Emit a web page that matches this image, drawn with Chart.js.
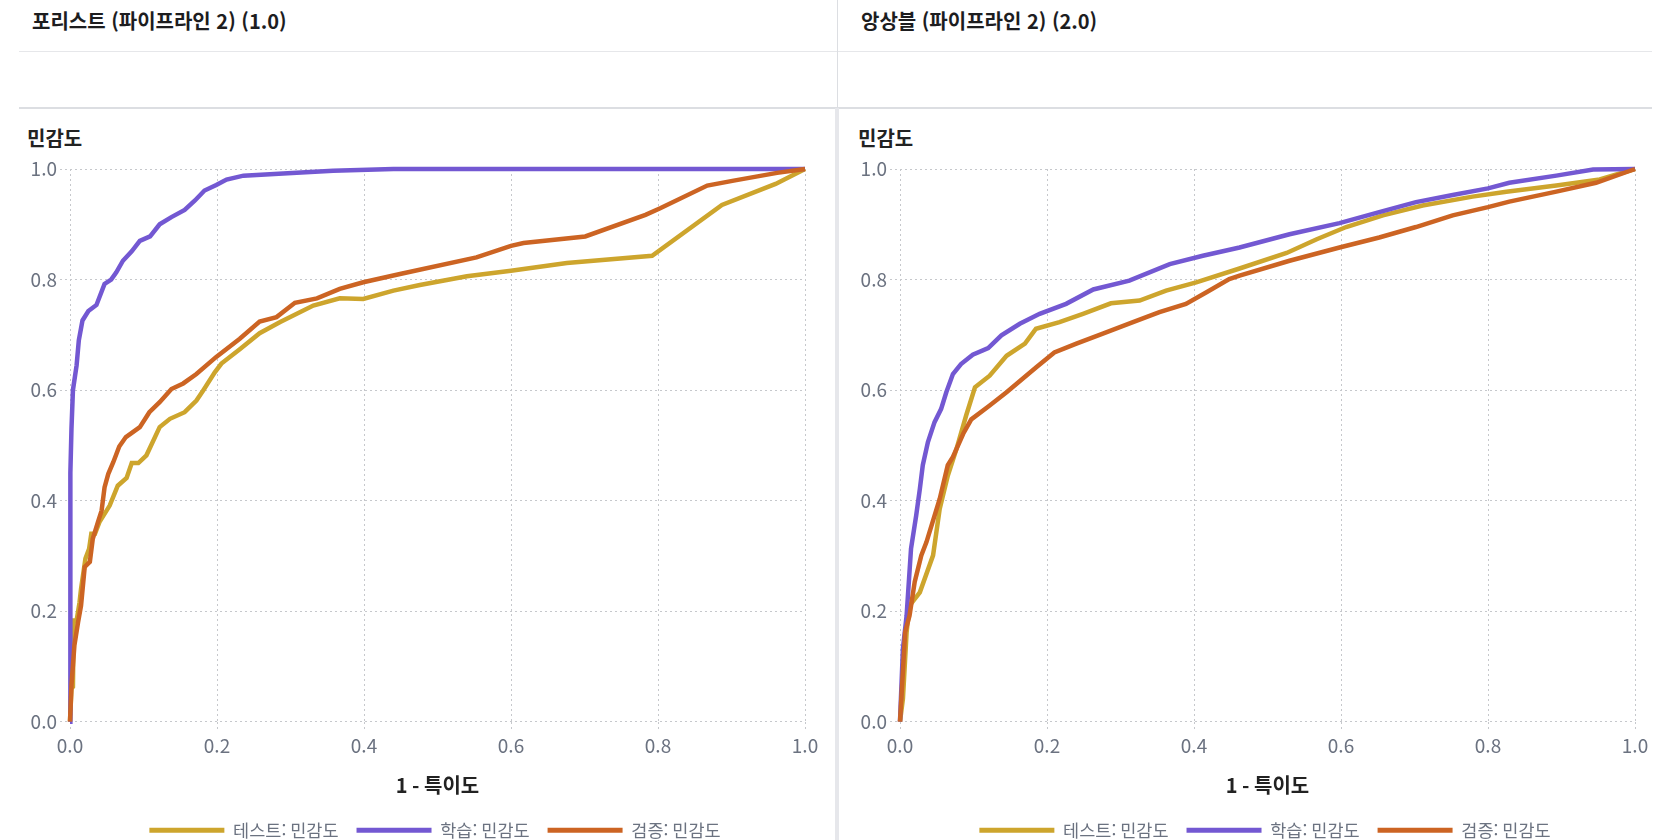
<!DOCTYPE html>
<html lang="ko">
<head>
<meta charset="utf-8">
<title>ROC 곡선</title>
<script src="https://cdn.jsdelivr.net/npm/chart.js"></script>
<style>
  html, body { margin: 0; width: 1671px; height: 840px; overflow: hidden; background: #fff; }
  body { position: relative; font-family: "Noto Sans CJK KR", "Noto Sans", sans-serif; }
  .panel-title { position: absolute; top: 11px; font-size: 20px; line-height: 20px; font-weight: 700; color: #1d1d1f; white-space: nowrap; }
  .axis-name { position: absolute; top: 128px; font-size: 20px; line-height: 20px; font-weight: 700; color: #222; }
  .rule { position: absolute; }
  .chart-box { position: absolute; top: 150px; width: 811px; height: 699px; }
</style>
</head>
<body>
  <div class="panel-title" style="left:32px">포리스트 (파이프라인 2) (1.0)</div>
  <div class="panel-title" style="left:861px">앙상블 (파이프라인 2) (2.0)</div>

  <div class="rule" style="left:19px; top:51px; width:1633px; height:1px; background:#e6e7ea"></div>
  <div class="rule" style="left:19px; top:107px; width:1633px; height:2px; background:#dcdee2"></div>
  <div class="rule" style="left:837px; top:0; width:1px; height:108px; background:#dcdee2"></div>
  <div class="rule" style="left:835px; top:108px; width:4px; height:732px; background:#e6e7eb"></div>

  <div class="axis-name" style="left:27px">민감도</div>
  <div class="axis-name" style="left:858px">민감도</div>

  <div class="chart-box" style="left:19px"><canvas id="forestChart"></canvas></div>
  <div class="chart-box" style="left:849px"><canvas id="ensembleChart"></canvas></div>

<script>
// 1 - 특이도 (x) / 민감도 (y)
const ticks = [0, 0.2, 0.4, 0.6, 0.8, 1.0];
const seriesNames = ['테스트: 민감도', '학습: 민감도', '검증: 민감도'];
const seriesColors = ['#CDA52D', '#7358D2', '#CC6423'];

// 포리스트 (파이프라인 2)
const forestTestFpr = [0, 0.002, 0.004, 0.005, 0.009, 0.013, 0.015, 0.021, 0.026, 0.029, 0.034, 0.04, 0.054, 0.065, 0.077, 0.084, 0.093, 0.104, 0.122, 0.136, 0.156, 0.172, 0.181, 0.197, 0.206, 0.231, 0.258, 0.286, 0.331, 0.367, 0.399, 0.44, 0.476, 0.54, 0.60, 0.676, 0.792, 0.887, 0.96, 1];
const forestTestTpr = [0, 0.06, 0.063, 0.183, 0.183, 0.216, 0.24, 0.295, 0.313, 0.34, 0.34, 0.361, 0.391, 0.427, 0.441, 0.468, 0.468, 0.482, 0.533, 0.548, 0.56, 0.581, 0.599, 0.632, 0.648, 0.674, 0.703, 0.723, 0.753, 0.766, 0.765, 0.78, 0.79, 0.806, 0.816, 0.83, 0.843, 0.935, 0.973, 1];

const forestTrainFpr = [0, 0, 0.001, 0.002, 0.004, 0.009, 0.012, 0.017, 0.025, 0.036, 0.047, 0.056, 0.063, 0.072, 0.084, 0.095, 0.109, 0.122, 0.138, 0.156, 0.170, 0.183, 0.199, 0.213, 0.236, 0.29, 0.358, 0.44, 1];
const forestTrainTpr = [0, 0.3, 0.45, 0.53, 0.6, 0.645, 0.69, 0.726, 0.743, 0.754, 0.792, 0.80, 0.813, 0.834, 0.851, 0.870, 0.878, 0.90, 0.913, 0.926, 0.943, 0.961, 0.971, 0.981, 0.988, 0.992, 0.997, 1, 1];

const forestValidFpr = [0, 0.002, 0.006, 0.011, 0.015, 0.02, 0.027, 0.031, 0.038, 0.043, 0.047, 0.052, 0.059, 0.067, 0.076, 0.095, 0.108, 0.122, 0.138, 0.154, 0.172, 0.199, 0.231, 0.258, 0.281, 0.306, 0.336, 0.367, 0.399, 0.449, 0.553, 0.60, 0.617, 0.701, 0.783, 0.803, 0.867, 0.903, 0.962, 1];
const forestValidTpr = [0, 0.066, 0.138, 0.18, 0.21, 0.28, 0.289, 0.331, 0.361, 0.382, 0.424, 0.448, 0.47, 0.498, 0.515, 0.533, 0.56, 0.578, 0.602, 0.612, 0.629, 0.66, 0.693, 0.724, 0.732, 0.758, 0.766, 0.783, 0.795, 0.81, 0.84, 0.861, 0.866, 0.878, 0.917, 0.929, 0.97, 0.979, 0.993, 1];

// 앙상블 (파이프라인 2)
const ensembleTestFpr = [0, 0.004, 0.009, 0.013, 0.027, 0.045, 0.054, 0.065, 0.077, 0.09, 0.102, 0.122, 0.145, 0.17, 0.185, 0.217, 0.249, 0.287, 0.326, 0.362, 0.403, 0.462, 0.526, 0.567, 0.607, 0.657, 0.711, 0.779, 0.825, 0.893, 0.952, 1];
const ensembleTestTpr = [0, 0.042, 0.162, 0.21, 0.234, 0.301, 0.385, 0.445, 0.494, 0.554, 0.605, 0.626, 0.662, 0.684, 0.711, 0.723, 0.738, 0.757, 0.762, 0.78, 0.795, 0.82, 0.848, 0.873, 0.895, 0.916, 0.934, 0.95, 0.959, 0.97, 0.981, 1];

const ensembleTrainFpr = [0, 0.004, 0.009, 0.015, 0.022, 0.027, 0.031, 0.038, 0.047, 0.056, 0.063, 0.072, 0.083, 0.099, 0.12, 0.138, 0.163, 0.19, 0.226, 0.263, 0.312, 0.367, 0.412, 0.462, 0.53, 0.598, 0.652, 0.702, 0.752, 0.8, 0.829, 0.893, 0.943, 1];
const ensembleTrainTpr = [0, 0.132, 0.192, 0.313, 0.373, 0.421, 0.464, 0.506, 0.542, 0.566, 0.596, 0.629, 0.647, 0.664, 0.676, 0.699, 0.72, 0.738, 0.756, 0.782, 0.798, 0.828, 0.843, 0.858, 0.882, 0.902, 0.922, 0.94, 0.953, 0.965, 0.975, 0.988, 0.999, 1];

const ensembleValidFpr = [0, 0.007, 0.013, 0.02, 0.029, 0.036, 0.054, 0.065, 0.072, 0.086, 0.097, 0.122, 0.145, 0.185, 0.21, 0.24, 0.276, 0.317, 0.353, 0.389, 0.417, 0.448, 0.462, 0.53, 0.598, 0.652, 0.702, 0.752, 0.8, 0.829, 0.893, 0.947, 1];
const ensembleValidTpr = [0, 0.162, 0.192, 0.253, 0.301, 0.325, 0.403, 0.464, 0.479, 0.521, 0.547, 0.572, 0.596, 0.641, 0.668, 0.684, 0.702, 0.723, 0.741, 0.756, 0.777, 0.801, 0.807, 0.834, 0.858, 0.876, 0.895, 0.916, 0.931, 0.941, 0.959, 0.975, 1];

Chart.defaults.font.family = '"Noto Sans CJK KR", "Noto Sans", sans-serif';

const toPoints = (xs, ys) => xs.map((x, i) => ({x: x, y: ys[i]}));

// nudges the bottom legend sideways after layout
const legendOffset = {
    id: 'legendOffset',
    afterLayout(chart, args, opts) {
        const lg = chart.legend;
        if (!lg) return;
        lg.left += opts.dx;
        lg.right += opts.dx;
    }
};

function axis(extra) {
    return Object.assign({
        type: 'linear',
        min: 0,
        max: 1,
        afterBuildTicks: scale => { scale.ticks = ticks.map(v => ({value: v})); },
        ticks: {
            color: '#6b7280',
            font: {size: 19},
            callback: v => v.toFixed(1)
        },
        grid: {
            color: '#c6c8cc',
            lineWidth: 1,
            tickLength: 10,
            tickBorderDash: [2, 3]
        },
        border: {display: false, dash: [2, 3]}
    }, extra);
}

function rocChart(id, curves) {
    const datasets = curves.map((c, i) => ({
        label: seriesNames[i],
        data: toPoints(c[0], c[1]),
        borderColor: seriesColors[i],
        backgroundColor: seriesColors[i],
        borderWidth: 4.5,
        pointRadius: 0,
        tension: 0,
        fill: false,
        clip: false,
        order: 2 - i
    }));
    return new Chart(document.getElementById(id), {
        type: 'line',
        data: {datasets: datasets},
        plugins: [legendOffset],
        options: {
            responsive: true,
            maintainAspectRatio: false,
            animation: false,
            layout: {padding: {top: 19, right: 25, left: 0, bottom: 0}},
            scales: {
                x: axis({
                    title: {
                        display: true,
                        text: '1 - 특이도',
                        color: '#222',
                        font: {size: 20, weight: 'bold'},
                        padding: {top: 13, bottom: 6}
                    }
                }),
                y: axis({
                    afterFit: scale => { scale.width = 51; }
                })
            },
            plugins: {
                tooltip: {enabled: false},
                legendOffset: {dx: 23},
                legend: {
                    position: 'bottom',
                    labels: {
                        boxWidth: 75,
                        boxHeight: 5,
                        padding: 18,
                        color: '#6b7280',
                        font: {size: 17.5},
                        sort: (a, b) => a.datasetIndex - b.datasetIndex,
                        generateLabels: chart => Chart.defaults.plugins.legend.labels.generateLabels(chart)
                            .map(item => Object.assign(item, {lineWidth: 0}))
                    }
                }
            }
        }
    });
}

rocChart('forestChart', [
    [forestTestFpr, forestTestTpr],
    [forestTrainFpr, forestTrainTpr],
    [forestValidFpr, forestValidTpr]
]);

rocChart('ensembleChart', [
    [ensembleTestFpr, ensembleTestTpr],
    [ensembleTrainFpr, ensembleTrainTpr],
    [ensembleValidFpr, ensembleValidTpr]
]);
</script>
</body>
</html>
